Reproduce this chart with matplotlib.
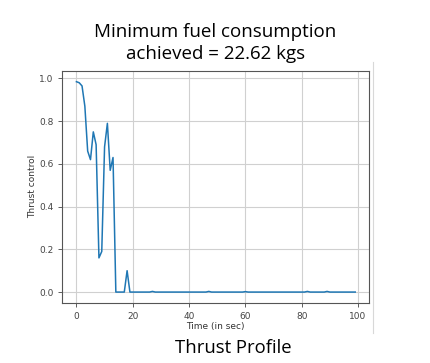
import numpy as np
import matplotlib.pyplot as plt

# Thrust control vs time
time_s = np.arange(100)
thrust = [0.985, 0.98, 0.965, 0.87, 0.66, 0.62, 0.75, 0.69, 0.16, 0.19,
          0.68, 0.79, 0.57, 0.63, 0.0, 0.0, 0.0, 0.0, 0.10, 0.0] + [0.0] * 80
# tiny bumps visible along the flat part
bumps = {27: 0.003, 47: 0.003, 60: 0.002, 82: 0.003, 89: 0.003}
for k, v in bumps.items():
    thrust[k] = v

title_text = "Minimum fuel consumption\nachieved = 22.62 kgs"
caption_text = "Thrust Profile"

fig = plt.figure(figsize=(4.31, 3.63), dpi=100)
ax = fig.add_axes([0.1446, 0.166, 0.7123, 0.6384])

ax.plot(time_s, thrust, color='tab:blue', linewidth=1.1)
ax.set_xlim(-5, 104)
ax.set_ylim(-0.05, 1.035)
ax.set_xticks([0, 20, 40, 60, 80, 100])
ax.set_yticks([0.0, 0.2, 0.4, 0.6, 0.8, 1.0])
ax.grid(True, color='#d0d0d0', linewidth=0.8)
ax.tick_params(labelsize=6.5, colors='#444444', length=3, width=0.6)
for s in ax.spines.values():
    s.set_color('#555555')
    s.set_linewidth(0.8)
ax.set_xlabel('Time (in sec)', fontsize=6.5, color='#333333', labelpad=1)
ax.set_ylabel('Thrust control', fontsize=6.5, color='#333333', labelpad=1.5)

fig.text(0.5, 0.882, title_text, ha='center', va='center', fontsize=13.5,
         family='Open Sans', linespacing=1.3)
fig.text(0.542, 0.04, caption_text, ha='center', va='center', fontsize=13.3,
         family='Open Sans')
# thin border line of the embedded picture on the slide
fig.add_artist(plt.Line2D([373.3 / 431, 373.3 / 431], [1 - 62 / 363, 1 - 333 / 363],
                          color='#d8d8d8', linewidth=0.8))

fig.savefig('out.png', dpi=100)
